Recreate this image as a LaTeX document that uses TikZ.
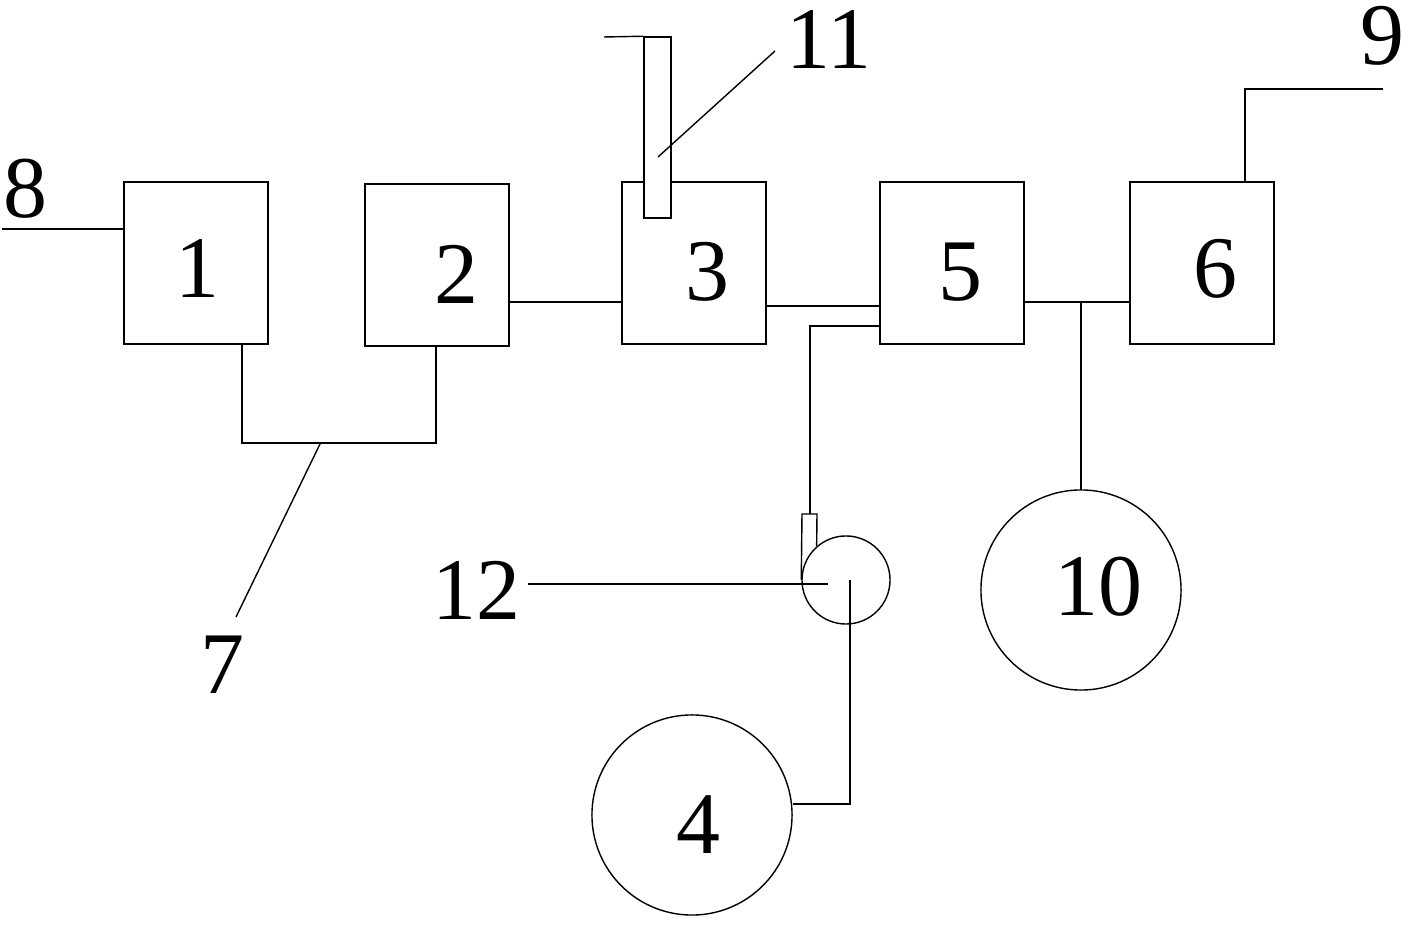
\documentclass[tikz,border=0pt]{standalone}
\usepackage{fontspec}
\setmainfont{Liberation Serif}
\usetikzlibrary{positioning,calc}

\begin{document}
\begin{tikzpicture}[
  x=0.01cm, y=-0.01cm, line width=0.4pt,
  box/.style={draw, fill=white, minimum width=1.44cm, minimum height=1.62cm, inner sep=0pt},
  tank/.style={circle, draw, minimum size=2cm, inner sep=0pt},
  num/.style={font=\fontsize{25}{30}\selectfont, inner sep=0pt}]
  \useasboundingbox (0,0) rectangle (1408,928);
  % units in line
  \node[box] (b1) at (196,263) {};
  \node[box] (b2) at (437,265) {};
  \node[box] (b3) at (694,263) {};
  \node[box] (b5) at (952,263) {};
  \node[box] (b6) at (1202,263) {};
  \node[tank] (c4) at (692,815) {};
  \node[tank] (c10) at (1081,590) {};
  \node[circle, draw, minimum size=0.88cm, inner sep=0pt] (p12) at (846,580) {};
  \node[draw, fill=white, minimum width=0.27cm, minimum height=1.81cm, inner sep=0pt] (t11) at (657.5,127.5) {};
  % numbers
  \node[num] (l1) at (197,268) {1};
  \node[num] (l2) at (456,274) {2};
  \node[num] (l3) at (707,272) {3};
  \node[num] (l5) at (960,272) {5};
  \node[num] (l6) at (1215,269) {6};
  \node[num] (l4) at (698,825) {4};
  \node[num] (l10) at (1098,587) {10};
  \node[num] (l7) at (222,665) {7};
  \node[num] (l8) at (25,189) {8};
  \node[num] (l9) at (1382,36) {9};
  \node[num] (l11) at (829,39) {11};
  \node[num] (l12) at (476,590) {12};
  % pipes
  \coordinate (e8) at (2,229);
  \draw (e8) -- (e8 -| b1.west);
  \coordinate (j7a) at (242,443);
  \coordinate (j7b) at (436,443);
  \draw (j7a |- b1.south) -- (j7a) -- (j7b) -- (j7b |- b2.south);
  \coordinate (c23) at (0,302);
  \draw (b2.east |- c23) -- (b3.west |- c23);
  \coordinate (c35) at (0,306);
  \draw (b3.east |- c35) -- (b5.west |- c35);
  \coordinate (c54) at (810,326);
  \coordinate (t12l) at (802,514);
  \coordinate (t12r) at (817,514);
  \draw (b5.west |- c54) -- (c54) -- (c54 |- t12l);
  \draw (p12.west) -- (t12l) -- (t12r) -- (p12.131);
  \coordinate (c124) at (850,804);
  \draw (c124 |- p12.center) -- (c124) -- (c124 -| c4.east);
  \coordinate (c56) at (1081,302);
  \draw (b5.east |- c56) -- (b6.west |- c56);
  \draw (c56) -- (c10.north);
  \coordinate (k9) at (1245,89);
  \coordinate (e9) at (1383,89);
  \draw (k9 |- b6.north) -- (k9) -- (e9);
  \coordinate (e11t) at (604,37);
  \draw (e11t) -- (t11.north west);
  % leaders
  \coordinate (k7) at (320,444);
  \coordinate (e7) at (236,617);
  \draw (k7) -- (e7);
  \coordinate (k11) at (658,157);
  \coordinate (e11) at (775,51);
  \draw (k11) -- (e11);
  \coordinate (e12) at (528,584);
  \coordinate (k12) at (828,584);
  \draw (e12) -- (k12);
\end{tikzpicture}
\end{document}
